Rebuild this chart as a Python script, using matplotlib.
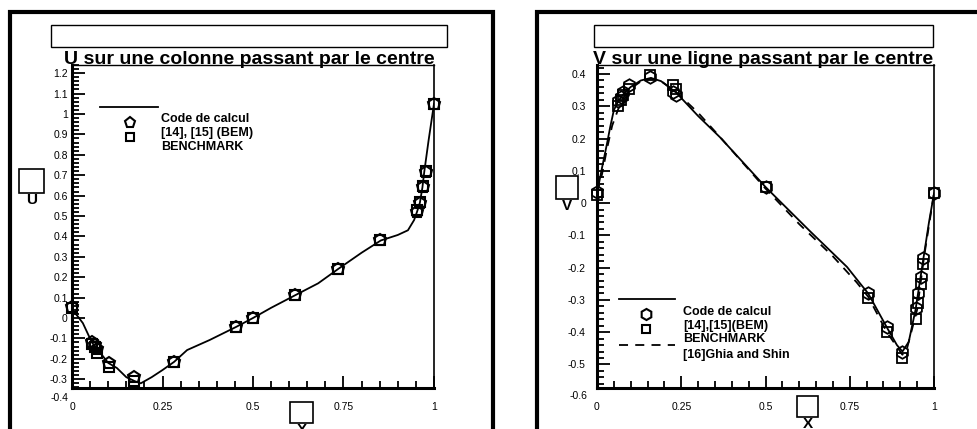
import matplotlib
matplotlib.use("Agg")
import matplotlib.pyplot as plt
from matplotlib.patches import Rectangle
from matplotlib.lines import Line2D
from matplotlib.ticker import MultipleLocator, FuncFormatter

plt.rcParams['font.family'] = ['Liberation Sans', 'DejaVu Sans']

W, H = 978, 429

# --- U sur une colonne (gauche) ---
u_line_x = [0, 0.015, 0.03, 0.055, 0.08, 0.1, 0.124, 0.15, 0.174, 0.19, 0.22, 0.25,
            0.282, 0.318, 0.38, 0.453, 0.5, 0.55, 0.618, 0.68, 0.735, 0.8, 0.853,
            0.9, 0.928, 0.945, 0.953, 0.961, 0.968, 0.973, 0.985, 1.0]
u_line_y = [0.04, 0.01, -0.025, -0.12, -0.175, -0.22, -0.245, -0.29, -0.31, -0.32,
            -0.29, -0.255, -0.215, -0.157, -0.108, -0.044, 0.0, 0.05, 0.113, 0.17,
            0.24, 0.32, 0.38, 0.407, 0.43, 0.48, 0.52, 0.565, 0.64, 0.715, 0.87, 1.05]
u_pts_x = [0.0, 0.0547, 0.0625, 0.0703, 0.1016, 0.1719, 0.2813, 0.4531, 0.5,
           0.6172, 0.7344, 0.8516, 0.9531, 0.9609, 0.9688, 0.9766, 1.0]
u_bem = [0.054, -0.12, -0.13, -0.15, -0.22, -0.29, -0.215, -0.044, 0.0,
         0.113, 0.24, 0.38, 0.52, 0.565, 0.64, 0.715, 1.05]
u_bench = [0.05, -0.125, -0.14, -0.17, -0.24, -0.31, -0.215, -0.044, 0.0,
           0.113, 0.24, 0.38, 0.53, 0.57, 0.645, 0.72, 1.05]

# --- V sur une ligne (droite) ---
v_line_x = [0, 0.006, 0.015, 0.03, 0.039, 0.05, 0.0625, 0.08, 0.1, 0.13, 0.16, 0.19,
            0.2344, 0.3, 0.365, 0.43, 0.5, 0.632, 0.742, 0.78, 0.8047, 0.86, 0.89,
            0.9063, 0.925, 0.9453, 0.9688, 0.985, 1.0]
v_line_y = [0.03, 0.062, 0.11, 0.186, 0.235, 0.288, 0.315, 0.34, 0.36, 0.38, 0.388,
            0.378, 0.343, 0.27, 0.204, 0.13, 0.05, -0.087, -0.198, -0.248, -0.28,
            -0.385, -0.44, -0.46, -0.43, -0.33, -0.17, -0.06, 0.03]
v_ghia_x = [0, 0.015, 0.03, 0.045, 0.0625, 0.08, 0.1, 0.13, 0.16, 0.19, 0.2344, 0.3,
            0.365, 0.5, 0.6, 0.7, 0.77, 0.8047, 0.86, 0.9063, 0.92, 0.95, 0.97, 1.0]
v_ghia_y = [0.03, 0.09, 0.17, 0.24, 0.29, 0.33, 0.355, 0.377, 0.386, 0.378, 0.345,
            0.28, 0.205, 0.045, -0.065, -0.165, -0.245, -0.29, -0.40, -0.47, -0.45,
            -0.33, -0.17, 0.03]
v_pts_x = [0.0, 0.0625, 0.0703, 0.0781, 0.0938, 0.1563, 0.2266, 0.2344, 0.5,
           0.8047, 0.8594, 0.9063, 0.9453, 0.9531, 0.9609, 0.9688, 1.0]
v_bem = [0.034, 0.315, 0.33, 0.345, 0.365, 0.392, 0.345, 0.335, 0.05,
         -0.28, -0.385, -0.46, -0.325, -0.28, -0.23, -0.17, 0.03]
v_bench = [0.025, 0.30, 0.32, 0.335, 0.355, 0.398, 0.365, 0.355, 0.05,
           -0.295, -0.40, -0.48, -0.36, -0.31, -0.25, -0.19, 0.03]


def fx(x):
    return x / W


def fy(y):
    return 1 - y / H


def fmt(v, pos):
    v = round(v, 2)
    if abs(v) < 1e-9:
        return "0"
    return f"{v:g}"


fig = plt.figure(figsize=(W / 100, H / 100), dpi=100)

# cadres extérieurs
for x0, x1 in [(10, 493), (537, 990)]:
    fig.add_artist(Rectangle((fx(x0), fy(440)), fx(x1 - x0), (440 - 12) / H,
                             transform=fig.transFigure, fill=False, lw=3, ec='black'))


def panel(left, right, ylim, ymajor_pad, title, title_box, yname, ybox, xbox):
    ax = fig.add_axes([fx(left), fy(388), fx(right - left), (388 - 65) / H])
    ax.set_xlim(0, 1)
    ax.set_ylim(*ylim)
    ax.xaxis.set_major_locator(MultipleLocator(0.25))
    ax.xaxis.set_minor_locator(MultipleLocator(0.05))
    ax.yaxis.set_major_locator(MultipleLocator(0.1))
    ax.yaxis.set_minor_locator(MultipleLocator(0.02))
    ax.xaxis.set_major_formatter(FuncFormatter(fmt))
    ax.yaxis.set_major_formatter(FuncFormatter(fmt))
    ax.tick_params(which='both', direction='in', top=False, right=False,
                   labelsize=7.5, width=1.3)
    ax.tick_params(which='major', length=9)
    ax.tick_params(which='minor', length=5)
    ax.tick_params(axis='x', which='major', pad=10)
    ax.tick_params(axis='y', which='major', pad=ymajor_pad)
    ax.spines['left'].set_linewidth(2.2)
    ax.spines['bottom'].set_linewidth(2.2)
    ax.spines['top'].set_linewidth(1)
    ax.spines['right'].set_linewidth(1.2)
    # boîte du titre
    bx0, bx1 = title_box
    fig.add_artist(Rectangle((fx(bx0), fy(47)), fx(bx1 - bx0), 22 / H,
                             transform=fig.transFigure, fill=False, lw=1, ec='black'))
    fig.text(fx((bx0 + bx1) / 2), fy(64), title, ha='center', va='baseline',
             fontsize=14, fontweight='bold')
    # étiquettes d'axes (boîtes vides)
    x0, y0, x1, y1 = ybox
    fig.add_artist(Rectangle((fx(x0), fy(y1)), fx(x1 - x0), (y1 - y0) / H,
                             transform=fig.transFigure, fill=False, lw=1.2, ec='black'))
    fig.text(fx((x0 + x1) / 2), fy(y1 + 7), yname, ha='center', va='center',
             fontsize=11, fontweight='bold')
    x0, y0, x1, y1 = xbox
    fig.add_artist(Rectangle((fx(x0), fy(y1)), fx(x1 - x0), (y1 - y0) / H,
                             transform=fig.transFigure, fill=False, lw=1.2, ec='black'))
    fig.text(fx((x0 + x1) / 2), fy(y1 + 7), "X", ha='center', va='center',
             fontsize=11, fontweight='bold')
    return ax


# ---------- panneau gauche ----------
ax1 = panel(72, 434, (-0.343, 1.24), 3, "U sur une colonne passant par le centre",
            (51, 447), "U", (19, 169, 44, 193), (290, 402, 313, 423))
ax1.plot(u_line_x, u_line_y, color='black', lw=1.3)
ax1.plot(u_pts_x, u_bem, linestyle='none', marker='p', ms=9, mfc='none',
         mec='black', mew=1.5, clip_on=False)
ax1.plot(u_pts_x, u_bench, linestyle='none', marker='s', ms=6.5, mfc='none',
         mec='black', mew=1.5, clip_on=False)
fig.text(fx(68), fy(398), "-0.4", ha='right', va='center', fontsize=7.5)

fig.add_artist(Line2D([fx(100), fx(158)], [fy(107), fy(107)], color='black', lw=1.3,
                      transform=fig.transFigure))
fig.add_artist(Line2D([fx(130)], [fy(123)], marker='p', ms=8, mfc='none', mec='black',
                      mew=1.5, transform=fig.transFigure))
fig.add_artist(Line2D([fx(130)], [fy(137)], marker='s', ms=6, mfc='none', mec='black',
                      mew=1.5, transform=fig.transFigure))
for txt, yy in [("Code de calcul", 119), ("[14], [15] (BEM)", 133), ("BENCHMARK", 147)]:
    fig.text(fx(161), fy(yy), txt, ha='left', va='center', fontsize=9,
             fontweight='bold')

# ---------- panneau droit ----------
ax2 = panel(597, 934, (-0.573, 0.428), 8, "V sur une ligne passant par le centre",
            (594, 933), "V", (556, 176, 578, 199), (797, 396, 818, 417))
ax2.plot(v_line_x, v_line_y, color='black', lw=1.3)
ax2.plot(v_ghia_x, v_ghia_y, color='black', lw=1.3, linestyle=(0, (5, 4)))
ax2.plot(v_pts_x, v_bem, linestyle='none', marker='h', ms=9, mfc='none',
         mec='black', mew=1.3, clip_on=False)
ax2.plot(v_pts_x, v_bench, linestyle='none', marker='s', ms=6.5, mfc='none',
         mec='black', mew=1.3, clip_on=False)
fig.text(fx(587), fy(396), "-0.6", ha='right', va='center', fontsize=7.5)

fig.add_artist(Line2D([fx(619), fx(675)], [fy(299), fy(299)], color='black', lw=1.3,
                      transform=fig.transFigure))
fig.add_artist(Line2D([fx(646)], [fy(314)], marker='h', ms=8, mfc='none', mec='black',
                      mew=1.5, transform=fig.transFigure))
fig.add_artist(Line2D([fx(646)], [fy(329)], marker='s', ms=6, mfc='none', mec='black',
                      mew=1.5, transform=fig.transFigure))
fig.add_artist(Line2D([fx(619), fx(675)], [fy(345), fy(345)], color='black', lw=1.3,
                      linestyle=(0, (5, 4)), transform=fig.transFigure))
for txt, yy in [("Code de calcul", 312), ("[14],[15](BEM)", 326), ("BENCHMARK", 339),
                ("[16]Ghia and Shin", 355)]:
    fig.text(fx(683), fy(yy), txt, ha='left', va='center', fontsize=9,
             fontweight='bold')

fig.savefig("out.png", dpi=100)
